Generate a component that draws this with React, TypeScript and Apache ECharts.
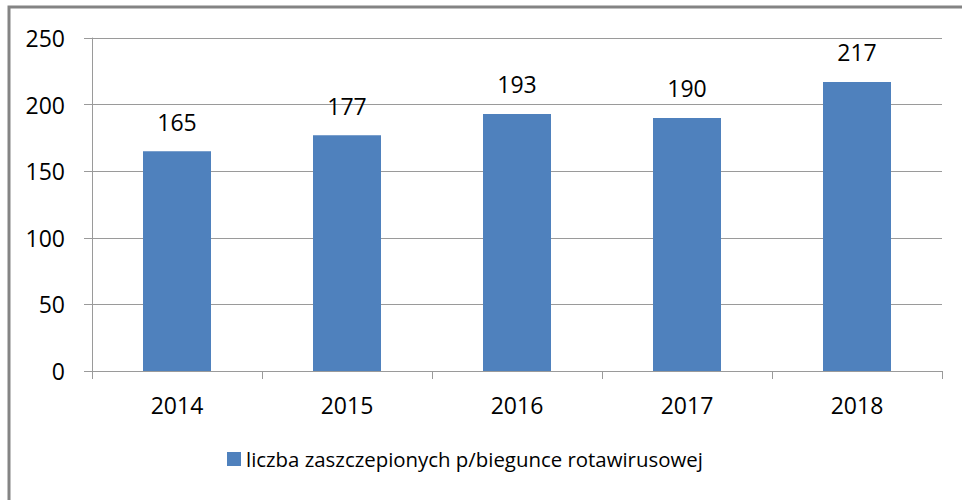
import React, { useEffect, useRef } from "react";
import * as echarts from "echarts";

const categories = ["2014", "2015", "2016", "2017", "2018"];
const values = [165, 177, 193, 190, 217];
const seriesName = "liczba zaszczepionych p/biegunce rotawirusowej";
const yTicks = { min: 0, max: 250, interval: 50 };

export default function App() {
  const ref = useRef<HTMLDivElement>(null);
  useEffect(() => {
    const chart = echarts.init(ref.current!, null, { renderer: "svg" });
    const font = "'Open Sans', 'Noto Sans', sans-serif";
    chart.setOption({
      animation: false,
      backgroundColor: "#ffffff",
      textStyle: { fontFamily: font },
      graphic: [
        {
          type: "rect",
          shape: { x: 9, y: 7, width: 1100, height: 700 },
          style: { fill: "none", stroke: "#848484", lineWidth: 3 },
          silent: true,
          z: 100,
        },
      ],
      grid: { left: 92, right: 20, top: 38, bottom: 129, containLabel: false },
      legend: {
        bottom: 26,
        left: 222,
        itemWidth: 14,
        itemHeight: 14,
        itemGap: 10,
        icon: "rect",
        textStyle: { fontSize: 20.4, color: "#000", fontFamily: font },
        data: [seriesName],
      },
      xAxis: {
        type: "category",
        data: categories,
        axisLine: { show: true, lineStyle: { color: "#9a9a9a", width: 1 } },
        axisTick: { show: true, length: 8, lineStyle: { color: "#9a9a9a" } },
        axisLabel: { fontSize: 23, color: "#000", margin: 22, fontFamily: font },
      },
      yAxis: {
        type: "value",
        min: yTicks.min,
        max: yTicks.max,
        interval: yTicks.interval,
        axisLine: { show: true, lineStyle: { color: "#9a9a9a", width: 1 } },
        axisTick: { show: true, length: 8, lineStyle: { color: "#9a9a9a" } },
        axisLabel: { fontSize: 23, color: "#000", margin: 27, fontFamily: font },
        splitLine: { show: true, lineStyle: { color: "#9a9a9a", width: 1 } },
      },
      series: [
        {
          name: seriesName,
          type: "bar",
          data: values,
          barWidth: "40%",
          itemStyle: { color: "#4F81BD" },
          label: {
            show: true,
            position: "top",
            distance: 18,
            fontSize: 23,
            color: "#000",
            fontFamily: font,
          },
        },
      ],
    });
    return () => chart.dispose();
  }, []);
  return (
    <div
      ref={ref}
      style={{ position: "fixed", left: 0, top: 0, width: 962, height: 500 }}
    />
  );
}
